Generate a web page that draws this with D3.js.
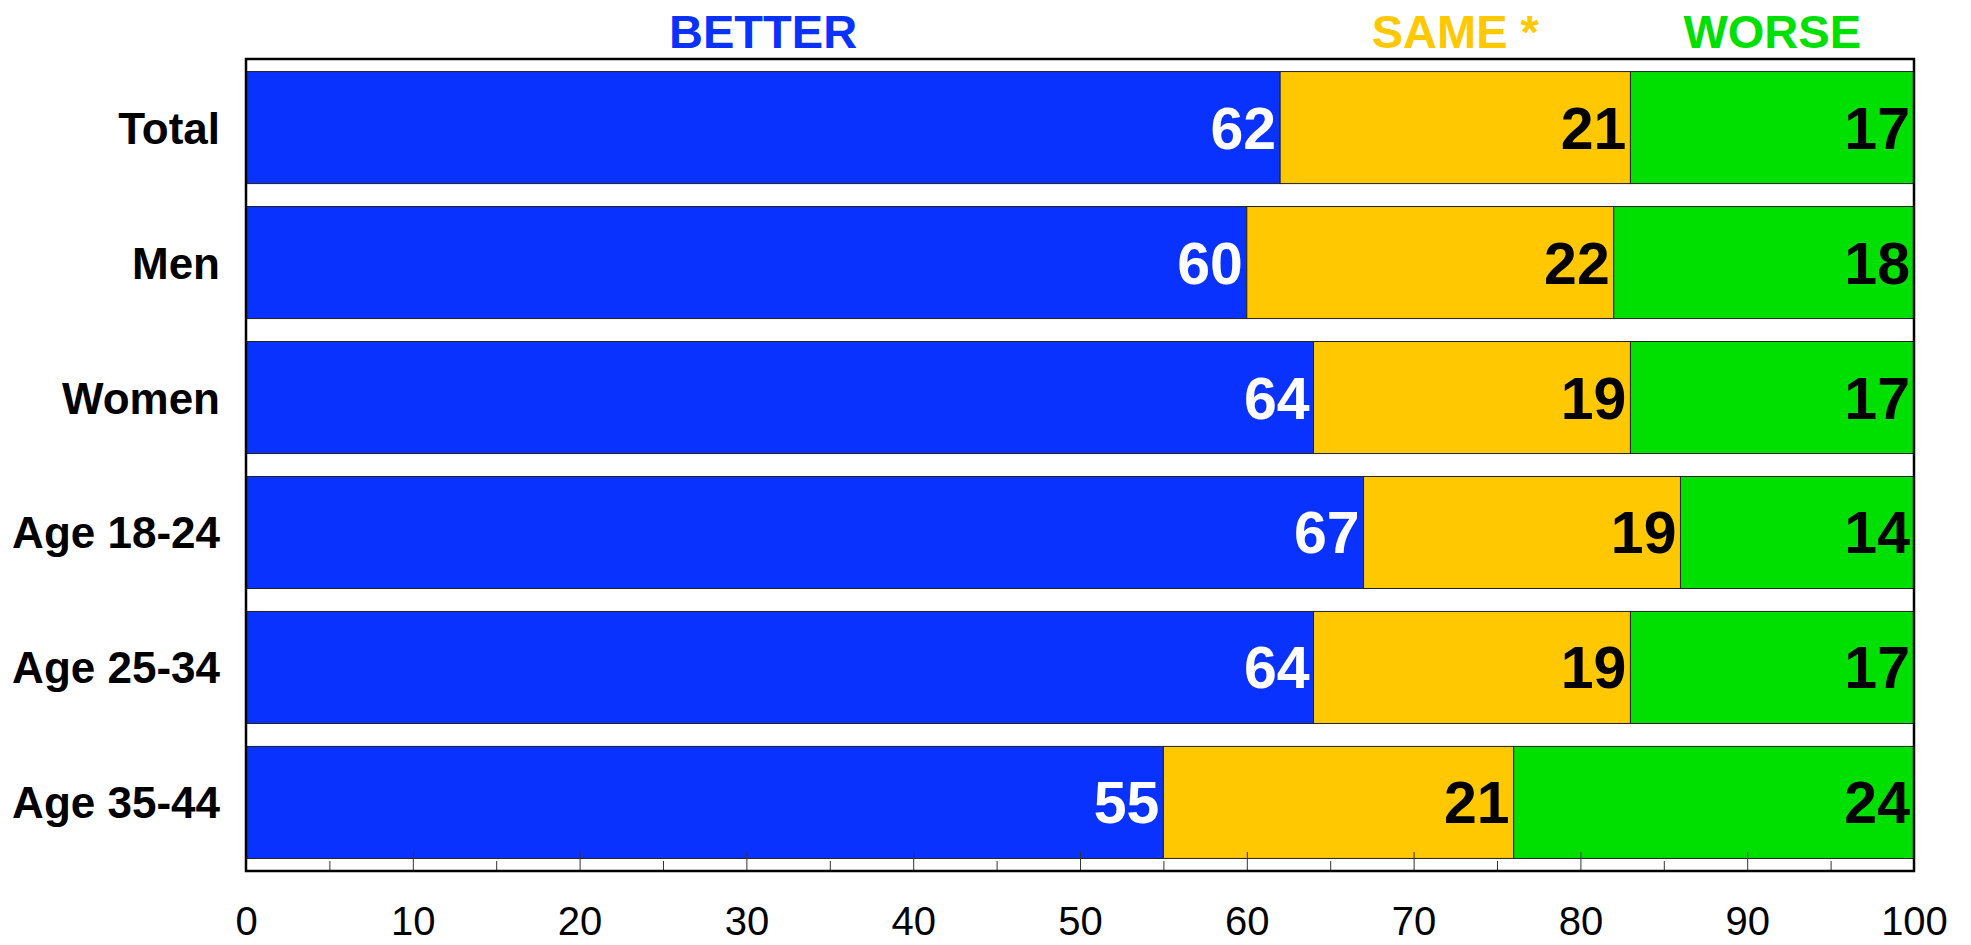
<!DOCTYPE html>
<html>
<head>
<meta charset="utf-8">
<script src="https://d3js.org/d3.v7.min.js"></script>
<style>
	body { margin: 0; background: #fff; }
	text { font-family: "Liberation Sans", Arial, sans-serif; }
</style>
</head>
<body>
<svg id="chart" width="1971" height="945"></svg>
<script>
// groups, top to bottom
var groups = ["Total", "Men", "Women", "Age 18-24", "Age 25-34", "Age 35-44"];
var seriesNames = ["BETTER", "SAME *", "WORSE"];
var better = [62, 60, 64, 67, 64, 55];
var same   = [21, 22, 19, 19, 19, 21];
var worse  = [17, 18, 17, 14, 17, 24];
var xTicks = [0, 10, 20, 30, 40, 50, 60, 70, 80, 90, 100];
var xMinor = [5, 15, 25, 35, 45, 55, 65, 75, 85, 95];

var colors = ["#0a32ff", "#ffc800", "#00e000"];
var labelColors = ["#ffffff", "#000000", "#000000"];

// plot box (note: "top" is a reserved window name, so use plot*)
var plotLeft = 246, plotRight = 1914, plotTop = 59, plotBottom = 871;

var svg = d3.select("#chart");

var x = d3.scaleLinear().domain([0, 100]).range([plotLeft, plotRight]);
var y = d3.scaleBand().domain(groups).range([plotTop, plotBottom])
	.paddingInner(0.17).paddingOuter(0.093);

// build rows for the stack
var rows = groups.map(function(g, i) {
	return { group: g, "BETTER": better[i], "SAME *": same[i], "WORSE": worse[i] };
});
var stack = d3.stack().keys(seriesNames)(rows);

var layers = svg.selectAll("g.layer")
	.data(stack)
	.enter().append("g")
	.attr("class", "layer");

layers.each(function(layer, li) {
	var g = d3.select(this);
	g.selectAll("rect")
		.data(layer)
		.enter().append("rect")
		.attr("x", function(d) { return x(d[0]); })
		.attr("y", function(d) { return y(d.data.group); })
		.attr("width", function(d) { return x(d[1]) - x(d[0]); })
		.attr("height", y.bandwidth())
		.attr("fill", colors[li])
		.attr("stroke", "#222")
		.attr("stroke-width", 1);

	// value labels, right aligned at segment end
	g.selectAll("text")
		.data(layer)
		.enter().append("text")
		.attr("x", function(d) { return x(d[1]) - 4; })
		.attr("y", function(d) { return y(d.data.group) + y.bandwidth() / 2 + 21; })
		.attr("text-anchor", "end")
		.attr("font-size", 59)
		.attr("font-weight", "bold")
		.attr("fill", labelColors[li])
		.text(function(d) { return d[1] - d[0]; });
});

// category labels
svg.selectAll("text.cat")
	.data(groups)
	.enter().append("text")
	.attr("class", "cat")
	.attr("x", 220)
	.attr("y", function(d) { return y(d) + y.bandwidth() / 2 + 16; })
	.attr("text-anchor", "end")
	.attr("font-size", 44)
	.attr("font-weight", "bold")
	.attr("fill", "#000")
	.text(function(d) { return d; });

// header labels, roughly over the Total row segments
svg.selectAll("text.head")
	.data(stack)
	.enter().append("text")
	.attr("class", "head")
	.attr("x", function(d) { return x((d[0][0] + d[0][1]) / 2); })
	.attr("y", 48)
	.attr("text-anchor", "middle")
	.attr("font-size", 47)
	.attr("font-weight", "bold")
	.attr("fill", function(d, i) { return colors[i]; })
	.text(function(d) { return d.key; });

// ticks sit on top of the bars
var minorAxis = d3.axisBottom(x).tickValues(xMinor).tickSize(-10).tickFormat("");
svg.append("g")
	.attr("transform", "translate(0," + plotBottom + ")")
	.call(minorAxis)
	.call(function(g) {
		g.select(".domain").remove();
		g.selectAll("line").attr("stroke", "#333").attr("stroke-width", 1);
	});

var majorAxis = d3.axisBottom(x).tickValues(xTicks).tickSize(-19).tickPadding(36);
svg.append("g")
	.attr("transform", "translate(0," + plotBottom + ")")
	.call(majorAxis)
	.call(function(g) {
		g.select(".domain").remove();
		g.selectAll("line").attr("stroke", "#333").attr("stroke-width", 1);
		g.selectAll("text")
			.attr("font-size", 40)
			.attr("font-family", "'Liberation Sans', Arial, sans-serif")
			.attr("fill", "#000");
	});

// frame
svg.append("rect")
	.attr("x", plotLeft)
	.attr("y", plotTop)
	.attr("width", plotRight - plotLeft)
	.attr("height", plotBottom - plotTop)
	.attr("fill", "none")
	.attr("stroke", "#000")
	.attr("stroke-width", 2.5);
</script>
</body>
</html>
